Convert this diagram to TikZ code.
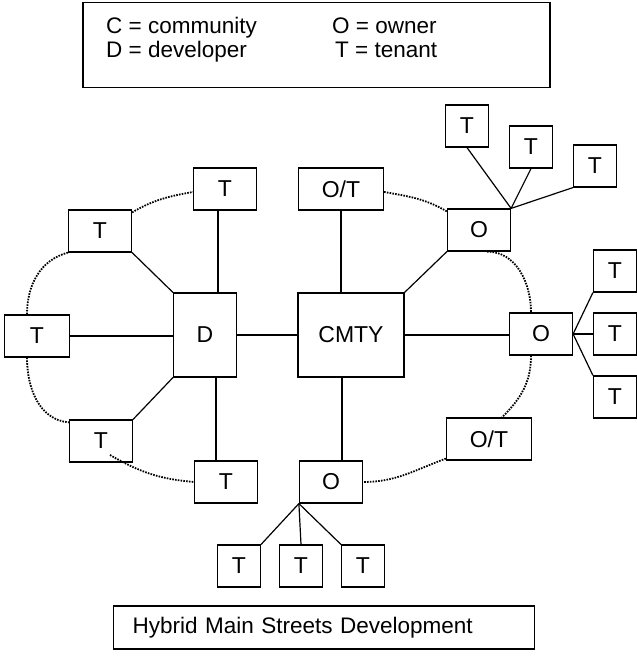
\documentclass[tikz,border=0pt]{standalone}
\usepackage{fontspec}
\setmainfont{Liberation Sans}
\usetikzlibrary{calc}

\tikzset{
  box/.style={draw, line width=1.2pt, minimum width=63pt, minimum height=42pt,
    inner sep=0pt, font=\fontsize{23}{26}\selectfont},
  tbox/.style={box, minimum width=43pt},
  wbox/.style={box, minimum width=85pt},
  hub/.style={box, minimum height=84pt},
  conn/.style={line width=1.2pt},
  ring/.style={line width=1.8pt, dash pattern=on 1.6pt off 1.2pt},
  keytext/.style={anchor=base west, inner sep=0pt, font=\fontsize{22.5}{26}\selectfont},
}

\begin{document}
\begin{tikzpicture}[x=1pt, y=1pt]
    \useasboundingbox (0,0) rectangle (637,656);

    % Key
    \node[draw, line width=1.2pt, minimum width=467pt, minimum height=85pt] (key) at (316.5,611) {};
    \node[keytext] (kc) at (106,622) {C = community};
    \node[keytext] (kd) at (106,598) {D = developer};
    \node[keytext] (ko) at (332,622) {O = owner};
    \node[keytext] (kt) at (335,598) {T = tenant};

    % Hubs
    \node[hub] (dev) at (205,321) {D};
    \node[hub, minimum width=106pt] (cmty) at (351,321) {CMTY};

    % Developer side
    \node[box] (tdnw) at (100,425) {T};
    \node[box] (tdn) at (225,467) {T};
    \node[box, minimum width=65pt] (tdw) at (37,320) {T};
    \node[box] (tdsw) at (101,215) {T};
    \node[box] (tds) at (226,174) {T};

    % Community side
    \node[wbox] (otn) at (341,467) {O/T};
    \node[box] (one) at (479,426) {O};
    \node[box] (oe) at (541,322) {O};
    \node[wbox] (ote) at (489,217) {O/T};
    \node[box] (os) at (331,174) {O};

    % Tenants of owners
    \node[tbox] (tne1) at (467,530) {T};
    \node[tbox] (tne2) at (531,509) {T};
    \node[tbox] (tne3) at (595,490) {T};
    \node[tbox] (te1) at (615,385) {T};
    \node[tbox] (te2) at (615,322) {T};
    \node[tbox] (te3) at (615,259) {T};
    \node[tbox] (ts1) at (239,90) {T};
    \node[tbox] (ts2) at (301,90) {T};
    \node[tbox] (ts3) at (363,90) {T};

    % Title
    \node[draw, line width=1.2pt, anchor=west, text width=383pt, inner xsep=19pt, inner ysep=0pt,
      minimum height=43pt, align=left, font=\fontsize{22.5}{26}\selectfont] (title) at (113,28.5)
      {Hybrid Main Streets Development};

    % Solid links
    \draw[conn] (dev.east) -- (dev.east -| cmty.west);
    \draw[conn] (tdw.east) -- (tdw.east -| dev.west);
    \draw[conn] (tdnw.south east) -- (dev.north west);
    \draw[conn] (tdsw.north east) -- (dev.south west);
    \draw[conn] ([xshift=13pt]dev.north) -- ([xshift=-7pt]tdn.south);
    \draw[conn] ([xshift=11pt]dev.south) -- ([xshift=-10pt]tds.north);
    \draw[conn] (otn.south) -- (otn.south |- cmty.north);
    \draw[conn] (cmty.north east) -- (one.south west);
    \draw[conn] (cmty.east) -- (cmty.east -| oe.west);
    \draw[conn] ([xshift=-9pt]cmty.south) -- ([xshift=11pt]os.north);

    % Fans to tenants
    \draw[conn] (one.north east) -- (tne1.south);
    \draw[conn] (one.north east) -- (tne2.south);
    \draw[conn] (one.north east) -- (tne3.south west);
    \draw[conn] (oe.east) -- (te1.south west);
    \draw[conn] (oe.east) -- (te2.west);
    \draw[conn] (oe.east) -- (te3.north west);
    \draw[conn] (os.south west) -- (ts1.north east);
    \draw[conn] (os.south west) -- (ts2.north);
    \draw[conn] (os.south west) -- (ts3.north west);

    % Dotted rings
    \draw[ring] ([yshift=-3pt]tdnw.north east) to[out=30, in=190] ([yshift=-3pt]tdn.west);
    \draw[ring] (tdnw.south west) to[out=195, in=90] ([xshift=-10pt]tdw.north);
    \draw[ring] ([xshift=-10pt]tdw.south) to[out=-90, in=175] ([yshift=-3pt]tdsw.north west);
    \draw[ring] ([shift={(9pt,-14pt)}]tdsw.center) to[out=-30, in=175] (tds.west);
    \draw[ring] ([yshift=-3pt]otn.east) to[out=-10, in=150] ([yshift=-3pt]one.north west);
    \draw[ring] ([xshift=8pt]one.south) to[out=0, in=90] ([xshift=-10pt]oe.north);
    \draw[ring] ([xshift=-10pt]oe.south) to[out=-90, in=45] ([xshift=13pt]ote.north);
    \draw[ring] ([yshift=2pt]ote.south west) to[out=200, in=0] (os.east);

\end{tikzpicture}
\end{document}
